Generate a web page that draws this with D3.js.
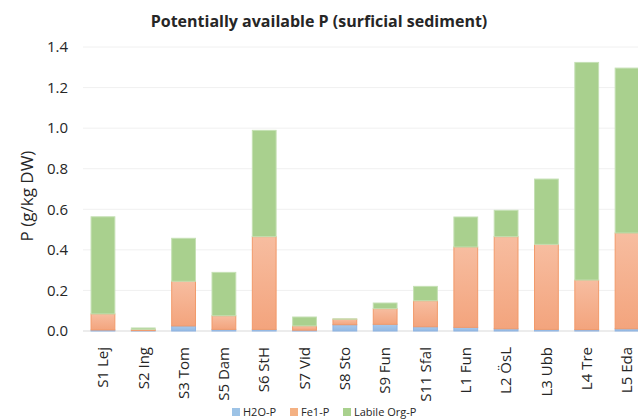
<!DOCTYPE html>
<html>
<head>
<meta charset="utf-8">
<script src="https://cdn.jsdelivr.net/npm/d3@7/dist/d3.min.js"></script>
<style>
  body { margin: 0; background: #fff; }
  text { font-family: "Open Sans", "Noto Sans", sans-serif; fill: #262626; }
</style>
</head>
<body>
<svg id="chart" width="638" height="419"></svg>
<script>
// values (g/kg DW)
var sites = ["S1 Lej", "S2 Ing", "S3 Tom", "S5 Dam", "S6 StH", "S7 Vid", "S8 Sto",
             "S9 Fun", "S11 Sfal", "L1 Fun", "L2 ÖsL", "L3 Ubb", "L4 Tre", "L5 Eda"];
var h2oP   = [0.005, 0.002, 0.025, 0.008, 0.008, 0.004, 0.031, 0.033, 0.021, 0.018, 0.011, 0.008, 0.007, 0.011];
var fe1P   = [0.079, 0.006, 0.220, 0.067, 0.457, 0.021, 0.027, 0.077, 0.128, 0.396, 0.454, 0.419, 0.244, 0.472];
var orgP   = [0.479, 0.007, 0.212, 0.214, 0.524, 0.044, 0.002, 0.028, 0.071, 0.148, 0.130, 0.322, 1.073, 0.813];
var yTicks = [0, 0.2, 0.4, 0.6, 0.8, 1.0, 1.2, 1.4];
var seriesNames = ["H2O-P", "Fe1-P", "Labile Org-P"];

var svg = d3.select("#chart");
var plotLeft = 83, plotRight = 647, plotTop = 47, plotBottom = 331;

var rows = sites.map(function(s, i) {
    return { site: s, "H2O-P": h2oP[i], "Fe1-P": fe1P[i], "Labile Org-P": orgP[i] };
});

var x = d3.scaleBand().domain(sites).range([plotLeft, plotRight]).paddingInner(0.41).paddingOuter(0.2);
var y = d3.scaleLinear().domain([0, 1.4]).range([plotBottom, plotTop]);

// gradients for the bars
var defs = svg.append("defs");
function grad(id, c1, c2) {
    var g = defs.append("linearGradient").attr("id", id)
        .attr("x1", 0).attr("y1", 0).attr("x2", 0).attr("y2", 1);
    g.append("stop").attr("offset", "0%").attr("stop-color", c1);
    g.append("stop").attr("offset", "100%").attr("stop-color", c2);
}
grad("gBlue", "#a9c9ec", "#94b9e2");
grad("gOrange", "#f7bda0", "#f3a47d");
grad("gGreen", "#a9d08e", "#a9d08e");

var fills = { "H2O-P": "url(#gBlue)", "Fe1-P": "url(#gOrange)", "Labile Org-P": "url(#gGreen)" };
var strokes = { "H2O-P": "#8fb4e3", "Fe1-P": "#f29a6a", "Labile Org-P": "#c5e0b4" };
var legendColors = { "H2O-P": "#9dc3e6", "Fe1-P": "#f4b183", "Labile Org-P": "#a9d18e" };

// gridlines
svg.append("g")
    .selectAll("line")
    .data(yTicks)
    .enter().append("line")
    .attr("x1", plotLeft).attr("x2", 638)
    .attr("y1", function(d) { return y(d); })
    .attr("y2", function(d) { return y(d); })
    .attr("stroke", function(d) { return d === 0 ? "#d9d9d9" : "#f0f0f0"; })
    .attr("stroke-width", 1);

// y axis
var yAxis = svg.append("g")
    .attr("transform", "translate(" + plotLeft + ",0)")
    .call(d3.axisLeft(y).tickValues(yTicks).tickFormat(d3.format(".1f")).tickSize(0).tickPadding(15));
yAxis.select(".domain").remove();
yAxis.selectAll("text").style("font-size", "15px").attr("fill", "#262626");

// stacked bars
var stack = d3.stack().keys(seriesNames);
var layers = stack(rows);

svg.append("g")
    .selectAll("g")
    .data(layers)
    .enter().append("g")
    .each(function(layer) {
        d3.select(this).selectAll("rect")
            .data(layer)
            .enter().append("rect")
            .attr("x", function(d) { return x(d.data.site); })
            .attr("width", x.bandwidth())
            .attr("y", function(d) { return y(d[1]); })
            .attr("height", function(d) { return Math.max(0, y(d[0]) - y(d[1])); })
            .attr("fill", fills[layer.key])
            .attr("stroke", strokes[layer.key])
            .attr("stroke-width", 1);
    });

// x axis labels
var xAxis = svg.append("g")
    .attr("transform", "translate(0," + plotBottom + ")")
    .call(d3.axisBottom(x).tickSize(0).tickPadding(0));
xAxis.select(".domain").remove();
xAxis.selectAll("text")
    .style("font-size", "15px")
    .attr("fill", "#262626")
    .attr("text-anchor", "end")
    .attr("dy", "0.35em")
    .attr("transform", "translate(0,16) rotate(-90)")
    .attr("x", 0).attr("y", 0);

// title
svg.append("text")
    .attr("x", 319).attr("y", 27)
    .attr("text-anchor", "middle")
    .style("font-size", "16px")
    .style("font-weight", "bold")
    .attr("fill", "#000")
    .text("Potentially available P (surficial sediment)");

// y axis title
svg.append("text")
    .attr("transform", "translate(33,196) rotate(-90)")
    .attr("text-anchor", "middle")
    .style("font-size", "17px")
    .text("P (g/kg DW)");

// legend
var legendX = [232, 290, 343];
var legend = svg.append("g").selectAll("g")
    .data(seriesNames)
    .enter().append("g")
    .attr("transform", function(d, i) { return "translate(" + legendX[i] + ",412)"; });
legend.append("rect")
    .attr("x", 0).attr("y", -4).attr("width", 8).attr("height", 8)
    .attr("fill", function(d) { return legendColors[d]; });
legend.append("text")
    .attr("x", 11).attr("y", 0).attr("dy", "0.35em")
    .style("font-size", "11px")
    .attr("fill", "#404040")
    .text(function(d) { return d; });
</script>
</body>
</html>
